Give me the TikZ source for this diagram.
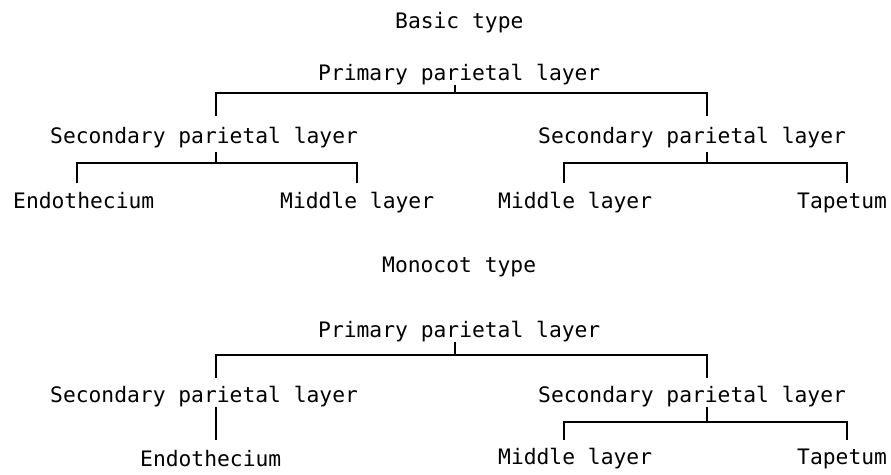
\documentclass[tikz,border=0pt]{standalone}
\usepackage{fontspec}
\setmonofont{DejaVu Sans Mono}
\usepackage{tikz}

\begin{document}
\begin{tikzpicture}
    [ x=1pt, y=-1pt,
      label/.style={anchor=base west, inner sep=0pt, text height=16pt, text depth=5pt, font=\fontsize{21.3}{25}\selectfont\ttfamily},
      link/.style={black, line width=2pt, line cap=butt, line join=miter}]

  \useasboundingbox (0,0) rectangle (891,474);

%%%%%%%%%%%%%%%%%%%%%%%%%%%%%%%%%%%%%%%%%%%%%%%%%%%%%%%%%%%%%%%%%%%%%%%%%%%%%%%%%%%%%%%%%%%%%%%%%%%%%%%%%%
%basic type

	  \node[label] (basic) at (395,28) {Basic type};
	  \node[label] (primA) at (318,80) {Primary parietal layer};
	  \node[label] (secAL) at (50,143) {Secondary parietal layer};
	  \node[label] (secAR) at (538,143) {Secondary parietal layer};
	  \node[label] (endoA) at (13,208) {Endothecium};
	  \node[label] (midAL) at (280,208) {Middle layer};
	  \node[label] (midAR) at (498,208) {Middle layer};
	  \node[label] (tapA) at (797,208) {Tapetum};

	  % junctions
	  \coordinate (kA) at (455,93);
	  \coordinate (kAL) at (216,163);
	  \coordinate (kAR) at (707,163);

	  \draw[link] (kA |- primA.south) -- (kA);
	  \draw[link] ([yshift=11pt]secAL.north -| kAL) |- (kA) -| ([yshift=11pt]secAR.north -| kAR);

	  \draw[link] ([yshift=-4pt]secAL.south -| kAL) -- (kAL);
	  \draw[link] ([yshift=9pt]endoA.north -| 77,0) |- (kAL) -| ([yshift=9pt]midAL.north -| 357,0);

	  \draw[link] ([yshift=-4pt]secAR.south -| kAR) -- (kAR);
	  \draw[link] ([yshift=9pt]midAR.north -| 564,0) |- (kAR) -| ([yshift=9pt]tapA.north -| 847,0);

%%%%%%%%%%%%%%%%%%%%%%%%%%%%%%%%%%%%%%%%%%%%%%%%%%%%%%%%%%%%%%%%%%%%%%%%%%%%%%%%%%%%%%%%%%%%%%%%%%%%%%%%%%
%monocot type

	  \node[label] (monocot) at (382,272) {Monocot type};
	  \node[label] (primB) at (318,337) {Primary parietal layer};
	  \node[label] (secBL) at (50,402) {Secondary parietal layer};
	  \node[label] (secBR) at (538,402) {Secondary parietal layer};
	  \node[label] (endoB) at (140,466) {Endothecium};
	  \node[label] (midB) at (498,464) {Middle layer};
	  \node[label] (tapB) at (797,464) {Tapetum};

	  % junctions
	  \coordinate (kB) at (455,355);
	  \coordinate (kBL) at (216,440);
	  \coordinate (kBR) at (707,422);

	  \draw[link] (kB |- primB.south) -- (kB);
	  \draw[link] ([yshift=8pt]secBL.north -| kBL) |- (kB) -| ([yshift=8pt]secBR.north -| kBR);

	  \draw[link] (kBL |- secBL.south) -- ([yshift=10pt]endoB.north -| kBL);

	  \draw[link] (kBR |- secBR.south) -- (kBR);
	  \draw[link] ([yshift=8pt]midB.north -| 564,0) |- (kBR) -| ([yshift=8pt]tapB.north -| 847,0);

\end{tikzpicture}
\end{document}
